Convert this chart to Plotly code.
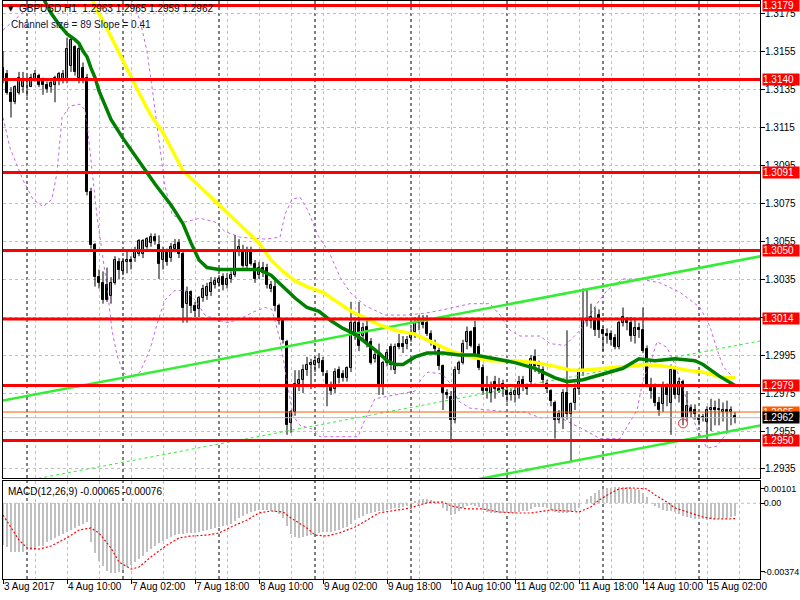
import plotly.graph_objects as go

# ---------------- data ----------------
opens = [1.3146,1.3143,1.3133,1.3128,1.3133,1.3136,1.3139,1.3136,1.3140,1.3142,
         1.3139,1.3137,1.3136,1.3137,1.3139,1.3140,1.3139,1.3147,1.3157,1.3141,
         1.3146,1.3141,1.3081,1.3053,1.3036,1.3033,1.3032,1.3026,1.3033,1.3044,
         1.3039,1.3044,1.3045,1.3046,1.3048,1.3048,1.3052,1.3054,1.3057,1.3053,
         1.3045,1.3050,1.3046,1.3051,1.3054,1.3048,1.3022,1.3028,1.3021,1.3019,
         1.3025,1.3026,1.3028,1.3032,1.3033,1.3036,1.3032,1.3035,1.3037,1.3050,
         1.3050,1.3042,1.3049,1.3043,1.3037,1.3041,1.3041,1.3030,1.3031,1.3021,
         1.3013,1.3002,1.2959,1.2965,1.2980,1.2982,1.2987,1.2990,1.2990,1.2991,
         1.2992,1.2985,1.2979,1.2977,1.2987,1.2985,1.2983,1.2988,1.3005,1.3012,
         1.3005,1.3010,1.3002,1.2993,1.2995,1.2979,1.2991,1.2999,1.2987,1.3001,
         1.3001,1.3001,1.3004,1.3007,1.3012,1.3013,1.3012,1.3006,1.3001,1.2997,
         1.2989,1.2975,1.2973,1.2961,1.2987,1.2991,1.3002,1.3007,1.3009,1.2999,
         1.2988,1.2977,1.2975,1.2981,1.2977,1.2980,1.2976,1.2974,1.2974,1.2974,
         1.2982,1.2978,1.2981,1.2994,1.2989,1.2987,1.2980,1.2976,1.2970,1.2961,
         1.2962,1.2975,1.2964,1.2970,1.2977,1.2986,1.3013,1.3013,1.3014,1.3016,
         1.3008,1.3006,1.3006,1.3004,1.2999,1.3012,1.3013,1.3012,1.3005,1.3009,
         1.3008,1.2998,1.2978,1.2978,1.2970,1.2969,1.2978,1.2970,1.2987,1.2974,
         1.2981,1.2962,1.2967,1.2966,1.2962,1.2962,1.2960,1.2966,1.2967,1.2966,
         1.2965,1.2966,1.2965,1.2963]
highs = [1.3155,1.3145,1.3136,1.3137,1.3144,1.3144,1.3142,1.3143,1.3145,1.3143,
         1.3141,1.3139,1.3140,1.3142,1.3144,1.3145,1.3162,1.3163,1.3158,1.3158,
         1.3149,1.3143,1.3083,1.3054,1.3040,1.3039,1.3041,1.3036,1.3047,1.3046,
         1.3046,1.3050,1.3047,1.3052,1.3056,1.3056,1.3057,1.3059,1.3059,1.3058,
         1.3052,1.3051,1.3054,1.3056,1.3056,1.3050,1.3031,1.3029,1.3023,1.3026,
         1.3032,1.3033,1.3036,1.3036,1.3037,1.3038,1.3038,1.3039,1.3058,1.3056,
         1.3053,1.3052,1.3052,1.3045,1.3044,1.3044,1.3043,1.3034,1.3036,1.3022,
         1.3014,1.3003,1.2966,1.2987,1.2987,1.2990,1.2994,1.2993,1.2994,1.2996,
         1.2994,1.2987,1.2981,1.2988,1.2989,1.2987,1.2989,1.3023,1.3015,1.3023,
         1.3012,1.3014,1.3004,1.2997,1.3001,1.2992,1.2998,1.3001,1.3001,1.3006,
         1.3005,1.3005,1.3009,1.3015,1.3016,1.3016,1.3016,1.3008,1.3003,1.2999,
         1.2990,1.2977,1.2976,1.2989,1.2992,1.3003,1.3010,1.3008,1.3013,1.3001,
         1.2990,1.2984,1.2981,1.2984,1.2983,1.2982,1.2978,1.2977,1.2979,1.2984,
         1.2984,1.2980,1.2995,1.2998,1.2992,1.2989,1.2982,1.2977,1.2971,1.2966,
         1.2977,1.3008,1.2970,1.2980,1.2988,1.3030,1.3030,1.3022,1.3020,1.3019,
         1.3010,1.3009,1.3008,1.3006,1.3013,1.3020,1.3015,1.3015,1.3014,1.3012,
         1.3020,1.3000,1.2983,1.2980,1.2973,1.2981,1.2980,1.2990,1.2989,1.2983,
         1.2982,1.2976,1.2969,1.2969,1.2964,1.2964,1.2968,1.2972,1.2971,1.2972,
         1.2970,1.2971,1.2968,1.2965]
lows = [1.3138,1.3132,1.3120,1.3127,1.3132,1.3133,1.3131,1.3136,1.3139,1.3136,
        1.3132,1.3133,1.3133,1.3128,1.3137,1.3138,1.3138,1.3144,1.3142,1.3138,
        1.3138,1.3079,1.3051,1.3031,1.3030,1.3022,1.3023,1.3022,1.3032,1.3035,
        1.3037,1.3038,1.3040,1.3044,1.3047,1.3046,1.3051,1.3052,1.3053,1.3035,
        1.3040,1.3042,1.3044,1.3049,1.3046,1.3012,1.3012,1.3017,1.3015,1.3015,
        1.3023,1.3024,1.3026,1.3030,1.3031,1.3029,1.3030,1.3033,1.3036,1.3047,
        1.3041,1.3040,1.3042,1.3033,1.3035,1.3036,1.3030,1.3028,1.3018,1.3011,
        1.3001,1.2953,1.2954,1.2963,1.2976,1.2975,1.2984,1.2977,1.2986,1.2988,
        1.2984,1.2968,1.2974,1.2975,1.2980,1.2981,1.2981,1.2986,1.3003,1.2997,
        1.3003,1.2999,1.2990,1.2991,1.2974,1.2974,1.2989,1.2987,1.2985,1.2998,
        1.2996,1.2998,1.3002,1.3004,1.3008,1.3009,1.3005,1.3000,1.2996,1.2987,
        1.2966,1.2972,1.2949,1.2959,1.2985,1.2990,1.2998,1.2999,1.2993,1.2987,
        1.2974,1.2972,1.2970,1.2972,1.2975,1.2973,1.2970,1.2971,1.2970,1.2972,
        1.2976,1.2974,1.2979,1.2986,1.2985,1.2980,1.2975,1.2968,1.2951,1.2959,
        1.2956,1.2961,1.2939,1.2966,1.2974,1.2984,1.3010,1.3009,1.3005,1.3004,
        1.2997,1.3001,1.3000,1.2998,1.2998,1.3010,1.3008,1.3002,1.3001,1.3004,
        1.2996,1.2978,1.2972,1.2968,1.2963,1.2965,1.2968,1.2953,1.2972,1.2970,
        1.2958,1.2960,1.2962,1.2961,1.2958,1.2960,1.2949,1.2955,1.2958,1.2958,
        1.2960,1.2955,1.2958,1.2959]
closes = [1.3139,1.3133,1.3128,1.3136,1.3141,1.3140,1.3140,1.3141,1.3143,1.3137,
          1.3137,1.3135,1.3138,1.3141,1.3143,1.3143,1.3156,1.3161,1.3144,1.3156,
          1.3139,1.3081,1.3053,1.3036,1.3033,1.3024,1.3024,1.3033,1.3045,1.3040,
          1.3044,1.3045,1.3044,1.3049,1.3055,1.3055,1.3056,1.3057,1.3055,1.3043,
          1.3049,1.3044,1.3052,1.3053,1.3048,1.3020,1.3028,1.3021,1.3018,1.3025,
          1.3030,1.3031,1.3033,1.3034,1.3035,1.3032,1.3035,1.3037,1.3050,1.3052,
          1.3042,1.3049,1.3043,1.3035,1.3041,1.3038,1.3032,1.3032,1.3021,1.3013,
          1.3003,1.2958,1.2965,1.2980,1.2982,1.2987,1.2990,1.2991,1.2992,1.2993,
          1.2986,1.2980,1.2976,1.2986,1.2983,1.2983,1.2988,1.3012,1.3012,1.3000,
          1.3009,1.3002,1.2991,1.2995,1.2979,1.2991,1.2996,1.2990,1.2999,1.2999,
          1.2999,1.3003,1.3006,1.3012,1.3013,1.3011,1.3006,1.3002,1.2998,1.2989,
          1.2975,1.2974,1.2961,1.2987,1.2991,1.3001,1.3007,1.3000,1.2995,1.2988,
          1.2976,1.2976,1.2978,1.2977,1.2976,1.2977,1.2974,1.2975,1.2976,1.2981,
          1.2979,1.2977,1.2993,1.2989,1.2990,1.2982,1.2977,1.2971,1.2961,1.2964,
          1.2975,1.2964,1.2969,1.2977,1.2987,1.3014,1.3014,1.3015,1.3008,1.3008,
          1.3006,1.3005,1.3003,1.2999,1.3012,1.3015,1.3012,1.3005,1.3009,1.3008,
          1.2997,1.2978,1.2976,1.2970,1.2966,1.2978,1.2974,1.2987,1.2974,1.2981,
          1.2962,1.2968,1.2965,1.2964,1.2961,1.2962,1.2966,1.2967,1.2966,1.2966,
          1.2966,1.2965,1.2966,1.2962]

ma_fast_idx = [10,12,14,16,18,19,20,21,22,23,24,25,27,30,34,38,42,45,47,49,
               51,54,60,64,67,70,73,76,79,82,85,88,91,94,96,98,100,103,106,110,
               114,118,123,128,133,138,141,145,150,155,159,163,168,173,175,179,183]
ma_fast_val = [1.3183,1.3175,1.3169,1.3164,1.3161,1.3159,1.3155,1.3152,1.3146,1.3141,
               1.3134,1.3129,1.3119,1.3109,1.3097,1.3085,1.3074,1.3064,1.3054,1.3045,
               1.3041,1.3040,1.3040,1.3040,1.3037,1.3031,1.3025,1.3020,1.3018,1.3013,
               1.3009,1.3006,1.3001,1.2996,1.2992,1.2990,1.2990,1.2994,1.2996,1.2996,
               1.2995,1.2995,1.2993,1.2991,1.2988,1.2983,1.2981,1.2982,1.2985,1.2988,
               1.2993,1.2992,1.2993,1.2992,1.2990,1.2984,1.2979]

ma_slow_idx = [22,23,25,28,31,34,37,40,43,45,48,51,55,58,61,64,67,70,73,76,80,
               84,87,91,94,98,103,108,112,117,122,128,133,138,142,145,150,155,161,
               166,171,175,180,183]
ma_slow_val = [1.3185,1.3178,1.3171,1.3158,1.3146,1.3133,1.3121,1.3112,1.3100,1.3092,
               1.3086,1.3080,1.3072,1.3066,1.3060,1.3054,1.3045,1.3039,1.3034,1.3031,
               1.3028,1.3022,1.3018,1.3014,1.3011,1.3008,1.3006,1.3001,1.2997,1.2994,
               1.2992,1.2992,1.2991,1.2989,1.2987,1.2987,1.2988,1.2989,1.2990,1.2989,
               1.2987,1.2986,1.2983,1.2983]

band_up_idx = [0,4.25,8,10.5,16.75,24.25,31.75,34.25,36,37.5,
               38.75,40.5,42.25,45.5,49.25,53,55.5,59.25,65.5,69.25,
               70.5,72.25,74.25,76.25,78.75,81.75,84.25,86.75,90.5,95.5,
               100.5,105.5,110.5,116.75,121.75,124.25,126.75,129.25,134.25,136.75,
               140.5,144.25,148.5,151,155,159.25,164.25,169.25,174.25,176.75,
               178.5,180,183]
band_up_val = [1.3166,1.3174,1.3181,1.3184,1.3187,1.3187,1.3184,1.3171,1.3155,1.3132,
               1.3113,1.3084,1.3069,1.3065,1.3067,1.3065,1.3060,1.3057,1.3056,1.3057,
               1.3069,1.3077,1.3078,1.3071,1.3058,1.3048,1.3036,1.3028,1.3021,1.3016,
               1.3016,1.3017,1.3019,1.3022,1.3022,1.3016,1.3008,1.3005,1.3005,1.3001,
               1.3000,1.3008,1.3022,1.3029,1.3035,1.3035,1.3033,1.3028,1.3020,1.3010,
               1.2998,1.2989,1.2982]
band_lo_idx = [0,1.75,5,7.5,10,12.25,13.5,14.75,16.75,19.25,
               20.5,21.25,23.5,26,27.25,28.5,30,31.75,34.25,36.75,
               38.75,40.5,43,45.5,48,50.5,54.25,56.25,59.25,63,
               65.5,67.25,69.25,71,72.5,74.25,77.25,79.25,83,88.75,
               90.5,93,98,103,104.75,106.25,109.75,112.25,113.75,116.75,
               121.75,126.25,130.5,134.25,139.25,145,149.25,154.25,158.5,160,
               161.75,163.5,166,168,171,173.5,176,178.5,181,183]
band_lo_val = [1.3120,1.3104,1.3087,1.3077,1.3073,1.3077,1.3091,1.3120,1.3126,1.3127,
               1.3124,1.3112,1.3068,1.3031,1.3008,1.2995,1.2986,1.2983,1.2986,1.2998,
               1.3013,1.3024,1.3029,1.3029,1.3024,1.3016,1.3013,1.3012,1.3014,1.3018,
               1.3020,1.3019,1.3003,1.2982,1.2963,1.2958,1.2956,1.2952,1.2952,1.2952,
               1.2961,1.2972,1.2974,1.2976,1.2983,1.2986,1.2985,1.2979,1.2971,1.2967,
               1.2966,1.2965,1.2965,1.2962,1.2962,1.2956,1.2951,1.2951,1.2966,1.2982,
               1.2990,1.3002,1.2999,1.2990,1.2971,1.2956,1.2946,1.2947,1.2954,1.2956]

channel_idx = [0, 189.5]
channel_up = [1.2971, 1.3047]
channel_mid = [1.29265, 1.30025]
channel_lo = [1.2882, 1.2958]

levels = [1.3179, 1.3140, 1.3091, 1.3050, 1.3014, 1.2979, 1.2950]
ask_price = 1.2965
bid_price = 1.2962
marker_idx = [170]
marker_val = [1.2959]

macd_hist = [-0.00206,-0.00216,-0.00241,-0.00241,-0.00241,-0.00241,-0.00231,-0.00231,-0.00231,-0.00211,
             -0.00211,-0.00191,-0.00181,-0.00171,-0.00162,-0.00152,-0.00142,-0.00132,-0.00122,-0.00112,
             -0.00102,-0.00092,-0.00191,-0.00246,-0.00285,-0.00310,-0.00334,-0.00344,-0.00344,-0.00339,
             -0.00330,-0.00315,-0.00305,-0.00290,-0.00275,-0.00260,-0.00241,-0.00226,-0.00211,-0.00196,
             -0.00186,-0.00176,-0.00166,-0.00157,-0.00152,-0.00152,-0.00147,-0.00147,-0.00147,-0.00142,
             -0.00137,-0.00132,-0.00127,-0.00122,-0.00117,-0.00112,-0.00107,-0.00102,-0.00087,-0.00073,
             -0.00063,-0.00053,-0.00043,-0.00038,-0.00033,-0.00033,-0.00033,-0.00038,-0.00043,-0.00053,
             -0.00073,-0.00112,-0.00152,-0.00166,-0.00171,-0.00166,-0.00162,-0.00157,-0.00152,-0.00147,
             -0.00142,-0.00142,-0.00142,-0.00137,-0.00132,-0.00122,-0.00117,-0.00102,-0.00083,-0.00073,
             -0.00063,-0.00053,-0.00048,-0.00043,-0.00038,-0.00038,-0.00033,-0.00028,-0.00023,-0.00023,
             -0.00018,-0.00013,-0.00003,0.00011,0.00016,0.00021,0.00021,0.00016,0.00006,-0.00003,
             -0.00023,-0.00038,-0.00058,-0.00053,-0.00038,-0.00023,-0.00013,-0.00008,-0.00013,-0.00018,
             -0.00033,-0.00043,-0.00048,-0.00048,-0.00048,-0.00048,-0.00048,-0.00048,-0.00048,-0.00043,
             -0.00038,-0.00038,-0.00028,-0.00018,-0.00018,-0.00018,-0.00023,-0.00033,-0.00043,-0.00048,
             -0.00048,-0.00048,-0.00043,-0.00038,-0.00023,0.00000,0.00021,0.00036,0.00051,0.00066,
             0.00071,0.00076,0.00076,0.00081,0.00081,0.00081,0.00081,0.00076,0.00071,0.00066,
             0.00051,0.00031,0.00000,-0.00013,-0.00023,-0.00033,-0.00038,-0.00038,-0.00043,-0.00053,
             -0.00063,-0.00068,-0.00073,-0.00078,-0.00078,-0.00078,-0.00083,-0.00078,-0.00078,-0.00076,
             -0.00073,-0.00071,-0.00069,-0.00065]

signal_idx = [0,2,4,6,9,12,16,19,22,24,27,29,32,34,37,41,44,47,51,54,
              57,61,64,67,70,72,76,78,81,84,88,91,94,97,99,102,104,107,110,112,
              116,120,124,128,132,137,141,144,147,149,152,154,157,161,163,166,168,172,175,178,183]
signal_val = [-0.00058,-0.00117,-0.00181,-0.00221,-0.00226,-0.00211,-0.00171,-0.00132,-0.00122,-0.00147,
              -0.00221,-0.00290,-0.00325,-0.00315,-0.00265,-0.00206,-0.00171,-0.00162,-0.00157,-0.00147,
              -0.00117,-0.00083,-0.00048,-0.00038,-0.00043,-0.00073,-0.00122,-0.00157,-0.00162,-0.00147,
              -0.00117,-0.00083,-0.00048,-0.00038,-0.00033,-0.00023,-0.00008,0.00006,0.00006,-0.00013,
              -0.00028,-0.00028,-0.00043,-0.00048,-0.00048,-0.00033,-0.00038,-0.00043,-0.00018,0.00016,
              0.00051,0.00071,0.00076,0.00071,0.00041,0.00006,-0.00023,-0.00048,-0.00068,-0.00078,
              -0.00076]

price_ticks = [1.3175,1.3155,1.3135,1.3115,1.3095,1.3075,1.3055,1.3035,1.3015,1.2995,1.2975,1.2955,1.2935]
time_tick_idx = [0,16,32,48,64,80,96,112,128,144,160,176]
time_tick_text = ["3 Aug 2017","4 Aug 10:00","7 Aug 02:00","7 Aug 18:00","8 Aug 10:00",
                  "9 Aug 02:00","9 Aug 18:00","10 Aug 10:00","11 Aug 02:00","11 Aug 18:00",
                  "14 Aug 10:00","15 Aug 02:00"]
day_sep_idx = [6,30,54,78,102,126,150,174]
macd_tick_text = ["0.00101", "0.00", "-0.00374"]

header_text = "GBPUSD,H1  1.2963 1.2965 1.2959 1.2962"
channel_text = "Channel size = 89 Slope = 0.41"
macd_text = "MACD(12,26,9) -0.00065 -0.00076"

# ---------------- figure ----------------
n = len(opens)
bars = list(range(n))
FONT = "Liberation Sans, Arial, sans-serif"
FS = 10
GRID = "#c0c0c0"
DASH = "3px,3px"

L_PX, R_PX, T_PX, B_PX = 3, 760, 1, 579
def px(x):
    return (x - L_PX) / (R_PX - L_PX)
def py(y):
    return (B_PX - y) / (B_PX - T_PX)

fig = go.Figure()

for bx, bv in ((band_up_idx, band_up_val), (band_lo_idx, band_lo_val)):
    fig.add_trace(go.Scatter(x=bx, y=bv, mode="lines",
                             line=dict(color="#c266e6", width=1, dash=DASH),
                             hoverinfo="skip", xaxis="x", yaxis="y"))

wx, wy = [], []
for i in bars:
    wx += [i, i, None]
    wy += [lows[i], highs[i], None]
fig.add_trace(go.Scatter(x=wx, y=wy, mode="lines", line=dict(color="black", width=1),
                         hoverinfo="skip", xaxis="x", yaxis="y"))

MINB = 0.00004
up_x, up_b, up_h, dn_x, dn_b, dn_h = [], [], [], [], [], []
for i in bars:
    o, c = opens[i], closes[i]
    h = max(abs(c - o), MINB)
    if c >= o:
        up_x.append(i); up_b.append(o); up_h.append(h)
    else:
        dn_x.append(i); dn_b.append(c); dn_h.append(h)
fig.add_trace(go.Bar(x=up_x, y=up_h, base=up_b, width=0.62,
                     marker=dict(color="white", line=dict(color="black", width=1)),
                     hoverinfo="skip", xaxis="x", yaxis="y"))
fig.add_trace(go.Bar(x=dn_x, y=dn_h, base=dn_b, width=0.62,
                     marker=dict(color="black", line=dict(color="black", width=1)),
                     hoverinfo="skip", xaxis="x", yaxis="y"))

fig.add_trace(go.Scatter(x=channel_idx, y=channel_up, mode="lines",
                         line=dict(color="#33ee33", width=2.5), hoverinfo="skip", xaxis="x", yaxis="y"))
fig.add_trace(go.Scatter(x=channel_idx, y=channel_lo, mode="lines",
                         line=dict(color="#33ee33", width=2.5), hoverinfo="skip", xaxis="x", yaxis="y"))
fig.add_trace(go.Scatter(x=channel_idx, y=channel_mid, mode="lines",
                         line=dict(color="#33ee33", width=1, dash=DASH), hoverinfo="skip", xaxis="x", yaxis="y"))

fig.add_trace(go.Scatter(x=ma_slow_idx, y=ma_slow_val, mode="lines",
                         line=dict(color="#ffff00", width=3.5), hoverinfo="skip", xaxis="x", yaxis="y"))
fig.add_trace(go.Scatter(x=ma_fast_idx, y=ma_fast_val, mode="lines",
                         line=dict(color="#008000", width=3.5), hoverinfo="skip", xaxis="x", yaxis="y"))

fig.add_trace(go.Scatter(x=marker_idx, y=marker_val, mode="markers",
                         marker=dict(symbol="circle-open", size=9, color="#ff2020", line=dict(width=1)),
                         hoverinfo="skip", xaxis="x", yaxis="y"))

fig.add_trace(go.Bar(x=bars, y=macd_hist, width=0.72, marker=dict(color="#c0c0c0", line=dict(width=0)),
                     hoverinfo="skip", xaxis="x2", yaxis="y2"))
fig.add_trace(go.Scatter(x=signal_idx, y=signal_val, mode="lines",
                         line=dict(color="#ff0000", width=1.2, dash="2px,2px"),
                         hoverinfo="skip", xaxis="x2", yaxis="y2"))

shapes = []
for d in day_sep_idx:
    for xr, yr in (("x", "y domain"), ("x2", "y2 domain")):
        shapes.append(dict(type="line", xref=xr, yref=yr, x0=d, x1=d, y0=0, y1=1,
                           line=dict(color="black", width=1, dash=DASH), layer="below"))
shapes.append(dict(type="line", xref="x2 domain", yref="y2", x0=0, x1=1, y0=0, y1=0,
                   line=dict(color=GRID, width=1, dash=DASH), layer="below"))
for lv in levels:
    shapes.append(dict(type="line", xref="x domain", yref="y", x0=0, x1=1, y0=lv, y1=lv,
                       line=dict(color="#ff0000", width=3), layer="above"))
shapes.append(dict(type="line", xref="x domain", yref="y", x0=0, x1=1, y0=ask_price, y1=ask_price,
                   line=dict(color="#ff5a00", width=1), layer="above"))
shapes.append(dict(type="line", xref="x domain", yref="y", x0=0, x1=1, y0=bid_price, y1=bid_price,
                   line=dict(color="#b8b8b8", width=1), layer="above"))

ann = []
def box_label(val, bg):
    return dict(x=1, xref="paper", y=val, yref="y", xanchor="left", yanchor="middle", xshift=2,
                text=f"{val:.4f}", showarrow=False, bgcolor=bg, width=36, height=11,
                align="left", borderpad=0, font=dict(color="white", size=FS, family=FONT))
for lv in levels:
    ann.append(box_label(lv, "#ff0000"))
ann.append(box_label(ask_price, "#ff5a00"))
ann.append(box_label(bid_price, "black"))
ann.append(dict(x=px(6), xref="paper", y=py(9), yref="paper", xanchor="left", yanchor="middle",
                text="▼", showarrow=False, font=dict(color="black", size=7, family="DejaVu Sans")))
ann.append(dict(x=px(17), xref="paper", y=py(9), yref="paper", xanchor="left", yanchor="middle",
                text=header_text, showarrow=False, font=dict(color="black", size=FS, family=FONT)))
ann.append(dict(x=px(9), xref="paper", y=py(24), yref="paper", xanchor="left", yanchor="middle",
                text=channel_text, showarrow=False, font=dict(color="#101040", size=FS, family=FONT)))
ann.append(dict(x=px(6), xref="paper", y=py(491), yref="paper", xanchor="left", yanchor="middle",
                text=macd_text, showarrow=False, font=dict(color="black", size=FS, family=FONT)))

x_range = [0, 189.25]
main_dom = [(B_PX - 478) / (B_PX - T_PX), 1]
macd_dom = [0, (B_PX - 481) / (B_PX - T_PX)]
tfont = dict(size=FS, family=FONT, color="black")

fig.update_layout(
    width=800, height=600,
    margin=dict(l=L_PX, r=800 - R_PX, t=T_PX, b=600 - B_PX, autoexpand=False),
    paper_bgcolor="white", plot_bgcolor="white",
    showlegend=False, barmode="overlay", bargap=0,
    font=dict(family=FONT, size=FS, color="black"),
    shapes=shapes, annotations=ann,
    xaxis=dict(domain=[0, 1], range=x_range, anchor="y", tickvals=list(range(0, 190, 8)),
               showticklabels=False, ticks="", showgrid=True, gridcolor=GRID, griddash=DASH,
               gridwidth=1, zeroline=False, showline=True, linecolor="black", linewidth=1, mirror=True,
               automargin=False),
    yaxis=dict(domain=main_dom, range=[1.293026, 1.318132], anchor="x", side="right",
               tickvals=price_ticks, tickformat=".4f", ticks="outside", ticklen=4, tickcolor="black",
               ticklabelstandoff=-2,
               showgrid=True, gridcolor=GRID, griddash=DASH, zeroline=False,
               showline=True, linecolor="black", linewidth=1, mirror=True,
               tickfont=tfont, automargin=False),
    xaxis2=dict(domain=[0, 1], range=x_range, anchor="y2", tickvals=time_tick_idx, ticktext=time_tick_text,
                ticks="outside", ticklen=4, tickcolor="black", ticklabelposition="outside right",
                tickangle=0, ticklabelstandoff=-2,
                showgrid=True, gridcolor=GRID, griddash=DASH,
                minor=dict(dtick=8, tick0=0, showgrid=True, gridcolor=GRID, griddash=DASH, ticks=""),
                zeroline=False, showline=True, linecolor="black", linewidth=1, mirror=True,
                tickfont=tfont, automargin=False),
    yaxis2=dict(domain=macd_dom, range=[-0.00374, 0.0011], anchor="x2", side="right",
                tickvals=[0.00071, 0.0, -0.00339], ticktext=macd_tick_text,
                ticks="outside", ticklen=4, tickcolor="black", showgrid=False, zeroline=False,
                ticklabelstandoff=-3,
                showline=True, linecolor="black", linewidth=1, mirror=True,
                tickfont=dict(size=9, family=FONT, color="black"), automargin=False),
)

fig.write_html("out.html", config={"displayModeBar": False},
               post_script="document.body.style.margin='0px';document.body.style.overflow='hidden';")
